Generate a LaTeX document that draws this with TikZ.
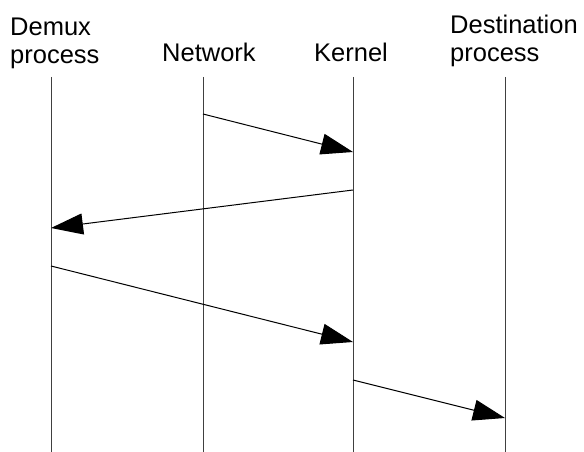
\documentclass[tikz,border=0pt]{standalone}
\usepackage{fontspec}
\setmainfont{Liberation Sans}
\usetikzlibrary{arrows.meta}
\begin{document}
\begin{tikzpicture}[x=1pt,y=-1pt,
  lbl/.style={inner sep=0pt, align=left, font=\fontsize{25.5}{28.5}\selectfont},
  lifeline/.style={draw=black!75, line width=1pt},
  msg/.style={draw=black, line width=1pt,
    -{Triangle[length=32pt,width=21pt]}, shorten >=0pt}]
  \useasboundingbox (0,0) rectangle (584,452);

  % column headings (base anchor sits on the last line's baseline)
  \node[lbl, anchor=base west] (hdemux) at (10,64) {Demux\\process};
  \node[lbl, anchor=base west] (hnet)   at (162,62) {Network};
  \node[lbl, anchor=base west] (hkern)  at (314,62) {Kernel};
  \node[lbl, anchor=base west] (hdest)  at (450,62) {Destination\\process};

  % lifeline ends
  \coordinate (dT) at (51,77);  \coordinate (dB) at (51,452);
  \coordinate (nT) at (203,77); \coordinate (nB) at (203,452);
  \coordinate (kT) at (353,77); \coordinate (kB) at (353,452);
  \coordinate (pT) at (505,77); \coordinate (pB) at (505,452);
  \draw[lifeline] (dT) -- (dB);
  \draw[lifeline] (nT) -- (nB);
  \draw[lifeline] (kT) -- (kB);
  \draw[lifeline] (pT) -- (pB);

  % message end points
  \coordinate (m1s) at (203,114); \coordinate (m1e) at (353,152);
  \coordinate (m2s) at (353,190); \coordinate (m2e) at (51,228);
  \coordinate (m3s) at (51,266);  \coordinate (m3e) at (353,342);
  \coordinate (m4s) at (353,380); \coordinate (m4e) at (505,418);

  \draw[msg] (m1s) -- (m1e);
  \draw[msg] (m2s) -- (m2e);
  \draw[msg] (m3s) -- (m3e);
  \draw[msg] (m4s) -- (m4e);
\end{tikzpicture}
\end{document}
